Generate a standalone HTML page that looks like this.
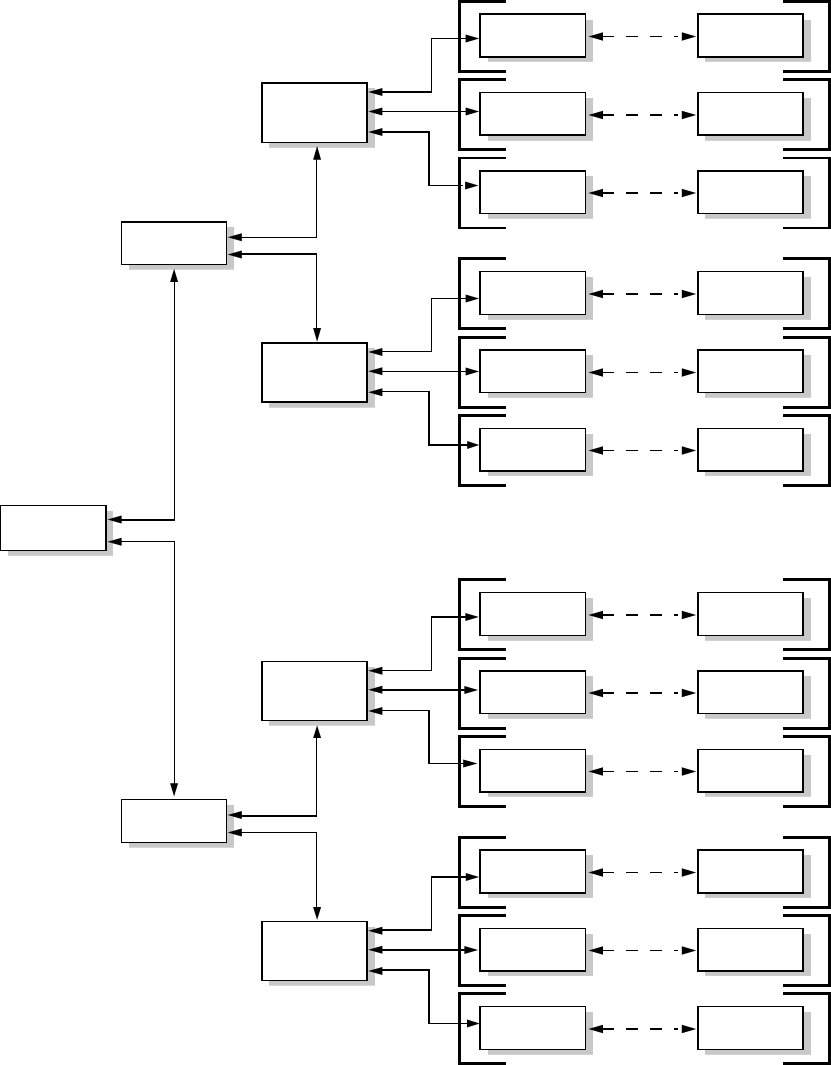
<!DOCTYPE html>
<html><head><meta charset="utf-8"><title>Diagram</title>
<style>html,body{margin:0;padding:0;background:#fff;}svg{display:block;}</style></head>
<body><svg width="831" height="1065" viewBox="0 0 831 1065">
<rect width="831" height="1065" fill="#fff"/>
<rect x="458" y="0" width="48" height="3" fill="#000"/>
<rect x="458" y="70" width="48" height="3" fill="#000"/>
<rect x="458" y="0" width="3" height="73" fill="#000"/>
<rect x="783" y="0" width="48" height="3" fill="#000"/>
<rect x="783" y="70" width="48" height="3" fill="#000"/>
<rect x="828" y="0" width="3" height="73" fill="#000"/>
<rect x="458" y="78" width="48" height="3" fill="#000"/>
<rect x="458" y="148" width="48" height="3" fill="#000"/>
<rect x="458" y="78" width="3" height="73" fill="#000"/>
<rect x="783" y="78" width="48" height="3" fill="#000"/>
<rect x="783" y="148" width="48" height="3" fill="#000"/>
<rect x="828" y="78" width="3" height="73" fill="#000"/>
<rect x="458" y="157" width="48" height="2" fill="#000"/>
<rect x="458" y="227" width="48" height="2" fill="#000"/>
<rect x="458" y="157" width="3" height="72" fill="#000"/>
<rect x="783" y="157" width="48" height="2" fill="#000"/>
<rect x="783" y="227" width="48" height="2" fill="#000"/>
<rect x="828" y="157" width="3" height="72" fill="#000"/>
<rect x="458" y="257" width="48" height="3" fill="#000"/>
<rect x="458" y="327" width="48" height="3" fill="#000"/>
<rect x="458" y="257" width="3" height="73" fill="#000"/>
<rect x="783" y="257" width="48" height="3" fill="#000"/>
<rect x="783" y="327" width="48" height="3" fill="#000"/>
<rect x="828" y="257" width="3" height="73" fill="#000"/>
<rect x="458" y="336" width="48" height="3" fill="#000"/>
<rect x="458" y="406" width="48" height="3" fill="#000"/>
<rect x="458" y="336" width="3" height="73" fill="#000"/>
<rect x="783" y="336" width="48" height="3" fill="#000"/>
<rect x="783" y="406" width="48" height="3" fill="#000"/>
<rect x="828" y="336" width="3" height="73" fill="#000"/>
<rect x="458" y="414" width="48" height="3" fill="#000"/>
<rect x="458" y="484" width="48" height="3" fill="#000"/>
<rect x="458" y="414" width="3" height="73" fill="#000"/>
<rect x="783" y="414" width="48" height="3" fill="#000"/>
<rect x="783" y="484" width="48" height="3" fill="#000"/>
<rect x="828" y="414" width="3" height="73" fill="#000"/>
<rect x="458" y="578" width="48" height="3" fill="#000"/>
<rect x="458" y="648" width="48" height="3" fill="#000"/>
<rect x="458" y="578" width="3" height="73" fill="#000"/>
<rect x="783" y="578" width="48" height="3" fill="#000"/>
<rect x="783" y="648" width="48" height="3" fill="#000"/>
<rect x="828" y="578" width="3" height="73" fill="#000"/>
<rect x="458" y="657" width="48" height="3" fill="#000"/>
<rect x="458" y="727" width="48" height="3" fill="#000"/>
<rect x="458" y="657" width="3" height="73" fill="#000"/>
<rect x="783" y="657" width="48" height="3" fill="#000"/>
<rect x="783" y="727" width="48" height="3" fill="#000"/>
<rect x="828" y="657" width="3" height="73" fill="#000"/>
<rect x="458" y="735" width="48" height="3" fill="#000"/>
<rect x="458" y="805" width="48" height="3" fill="#000"/>
<rect x="458" y="735" width="3" height="73" fill="#000"/>
<rect x="783" y="735" width="48" height="3" fill="#000"/>
<rect x="783" y="805" width="48" height="3" fill="#000"/>
<rect x="828" y="735" width="3" height="73" fill="#000"/>
<rect x="458" y="836" width="48" height="3" fill="#000"/>
<rect x="458" y="906" width="48" height="3" fill="#000"/>
<rect x="458" y="836" width="3" height="73" fill="#000"/>
<rect x="783" y="836" width="48" height="3" fill="#000"/>
<rect x="783" y="906" width="48" height="3" fill="#000"/>
<rect x="828" y="836" width="3" height="73" fill="#000"/>
<rect x="458" y="914" width="48" height="3" fill="#000"/>
<rect x="458" y="984" width="48" height="3" fill="#000"/>
<rect x="458" y="914" width="3" height="73" fill="#000"/>
<rect x="783" y="914" width="48" height="3" fill="#000"/>
<rect x="783" y="984" width="48" height="3" fill="#000"/>
<rect x="828" y="914" width="3" height="73" fill="#000"/>
<rect x="458" y="992" width="48" height="3" fill="#000"/>
<rect x="458" y="1062" width="48" height="3" fill="#000"/>
<rect x="458" y="992" width="3" height="73" fill="#000"/>
<rect x="783" y="992" width="48" height="3" fill="#000"/>
<rect x="783" y="1062" width="48" height="3" fill="#000"/>
<rect x="828" y="992" width="3" height="73" fill="#000"/>
<rect x="488" y="20" width="105" height="41.8" fill="#c8c8c8"/>
<rect x="479" y="13" width="107" height="45" fill="#fff"/>
<rect x="479" y="13" width="107" height="2" fill="#000"/>
<rect x="479" y="56" width="107" height="2" fill="#000"/>
<rect x="479" y="13" width="2" height="45" fill="#000"/>
<rect x="585" y="13" width="1" height="45" fill="#000"/>
<rect x="705" y="20" width="106" height="41.8" fill="#c8c8c8"/>
<rect x="697" y="13" width="107" height="45" fill="#fff"/>
<rect x="697" y="13" width="107" height="2" fill="#000"/>
<rect x="697" y="56" width="107" height="2" fill="#000"/>
<rect x="697" y="13" width="2" height="45" fill="#000"/>
<rect x="802" y="13" width="2" height="45" fill="#000"/>
<rect x="488" y="98" width="105" height="42.8" fill="#c8c8c8"/>
<rect x="479" y="92" width="107" height="44" fill="#fff"/>
<rect x="479" y="92" width="107" height="1" fill="#000"/>
<rect x="479" y="134" width="107" height="2" fill="#000"/>
<rect x="479" y="92" width="2" height="44" fill="#000"/>
<rect x="585" y="92" width="1" height="44" fill="#000"/>
<rect x="705" y="98" width="106" height="42.8" fill="#c8c8c8"/>
<rect x="697" y="92" width="107" height="44" fill="#fff"/>
<rect x="697" y="92" width="107" height="1" fill="#000"/>
<rect x="697" y="134" width="107" height="2" fill="#000"/>
<rect x="697" y="92" width="2" height="44" fill="#000"/>
<rect x="802" y="92" width="2" height="44" fill="#000"/>
<rect x="488" y="176" width="105" height="42.8" fill="#c8c8c8"/>
<rect x="479" y="170" width="107" height="44" fill="#fff"/>
<rect x="479" y="170" width="107" height="2" fill="#000"/>
<rect x="479" y="213" width="107" height="1" fill="#000"/>
<rect x="479" y="170" width="2" height="44" fill="#000"/>
<rect x="585" y="170" width="1" height="44" fill="#000"/>
<rect x="705" y="176" width="106" height="42.8" fill="#c8c8c8"/>
<rect x="697" y="170" width="107" height="44" fill="#fff"/>
<rect x="697" y="170" width="107" height="2" fill="#000"/>
<rect x="697" y="213" width="107" height="1" fill="#000"/>
<rect x="697" y="170" width="2" height="44" fill="#000"/>
<rect x="802" y="170" width="2" height="44" fill="#000"/>
<rect x="488" y="277" width="105" height="42.8" fill="#c8c8c8"/>
<rect x="479" y="271" width="107" height="44" fill="#fff"/>
<rect x="479" y="271" width="107" height="1" fill="#000"/>
<rect x="479" y="314" width="107" height="1" fill="#000"/>
<rect x="479" y="271" width="2" height="44" fill="#000"/>
<rect x="585" y="271" width="1" height="44" fill="#000"/>
<rect x="705" y="277" width="106" height="42.8" fill="#c8c8c8"/>
<rect x="697" y="271" width="107" height="44" fill="#fff"/>
<rect x="697" y="271" width="107" height="1" fill="#000"/>
<rect x="697" y="314" width="107" height="1" fill="#000"/>
<rect x="697" y="271" width="2" height="44" fill="#000"/>
<rect x="802" y="271" width="2" height="44" fill="#000"/>
<rect x="488" y="355" width="105" height="42.8" fill="#c8c8c8"/>
<rect x="479" y="349" width="107" height="44" fill="#fff"/>
<rect x="479" y="349" width="107" height="2" fill="#000"/>
<rect x="479" y="392" width="107" height="1" fill="#000"/>
<rect x="479" y="349" width="2" height="44" fill="#000"/>
<rect x="585" y="349" width="1" height="44" fill="#000"/>
<rect x="705" y="355" width="106" height="42.8" fill="#c8c8c8"/>
<rect x="697" y="349" width="107" height="44" fill="#fff"/>
<rect x="697" y="349" width="107" height="2" fill="#000"/>
<rect x="697" y="392" width="107" height="1" fill="#000"/>
<rect x="697" y="349" width="2" height="44" fill="#000"/>
<rect x="802" y="349" width="2" height="44" fill="#000"/>
<rect x="488" y="434" width="105" height="41.9" fill="#c8c8c8"/>
<rect x="479" y="428" width="107" height="44" fill="#fff"/>
<rect x="479" y="428" width="107" height="1" fill="#000"/>
<rect x="479" y="470" width="107" height="2" fill="#000"/>
<rect x="479" y="428" width="2" height="44" fill="#000"/>
<rect x="585" y="428" width="1" height="44" fill="#000"/>
<rect x="705" y="434" width="106" height="41.9" fill="#c8c8c8"/>
<rect x="697" y="428" width="107" height="44" fill="#fff"/>
<rect x="697" y="428" width="107" height="1" fill="#000"/>
<rect x="697" y="470" width="107" height="2" fill="#000"/>
<rect x="697" y="428" width="2" height="44" fill="#000"/>
<rect x="802" y="428" width="2" height="44" fill="#000"/>
<rect x="488" y="598" width="105" height="42.8" fill="#c8c8c8"/>
<rect x="479" y="592" width="107" height="44" fill="#fff"/>
<rect x="479" y="592" width="107" height="1" fill="#000"/>
<rect x="479" y="635" width="107" height="1" fill="#000"/>
<rect x="479" y="592" width="2" height="44" fill="#000"/>
<rect x="585" y="592" width="1" height="44" fill="#000"/>
<rect x="705" y="598" width="106" height="42.8" fill="#c8c8c8"/>
<rect x="697" y="592" width="107" height="44" fill="#fff"/>
<rect x="697" y="592" width="107" height="1" fill="#000"/>
<rect x="697" y="635" width="107" height="1" fill="#000"/>
<rect x="697" y="592" width="2" height="44" fill="#000"/>
<rect x="802" y="592" width="2" height="44" fill="#000"/>
<rect x="488" y="676" width="105" height="42.8" fill="#c8c8c8"/>
<rect x="479" y="670" width="107" height="44" fill="#fff"/>
<rect x="479" y="670" width="107" height="2" fill="#000"/>
<rect x="479" y="713" width="107" height="1" fill="#000"/>
<rect x="479" y="670" width="2" height="44" fill="#000"/>
<rect x="585" y="670" width="1" height="44" fill="#000"/>
<rect x="705" y="676" width="106" height="42.8" fill="#c8c8c8"/>
<rect x="697" y="670" width="107" height="44" fill="#fff"/>
<rect x="697" y="670" width="107" height="2" fill="#000"/>
<rect x="697" y="713" width="107" height="1" fill="#000"/>
<rect x="697" y="670" width="2" height="44" fill="#000"/>
<rect x="802" y="670" width="2" height="44" fill="#000"/>
<rect x="488" y="755" width="105" height="41.8" fill="#c8c8c8"/>
<rect x="479" y="749" width="107" height="44" fill="#fff"/>
<rect x="479" y="749" width="107" height="1" fill="#000"/>
<rect x="479" y="791" width="107" height="2" fill="#000"/>
<rect x="479" y="749" width="2" height="44" fill="#000"/>
<rect x="585" y="749" width="1" height="44" fill="#000"/>
<rect x="705" y="755" width="106" height="41.8" fill="#c8c8c8"/>
<rect x="697" y="749" width="107" height="44" fill="#fff"/>
<rect x="697" y="749" width="107" height="1" fill="#000"/>
<rect x="697" y="791" width="107" height="2" fill="#000"/>
<rect x="697" y="749" width="2" height="44" fill="#000"/>
<rect x="802" y="749" width="2" height="44" fill="#000"/>
<rect x="488" y="855" width="105" height="42.9" fill="#c8c8c8"/>
<rect x="479" y="849" width="107" height="45" fill="#fff"/>
<rect x="479" y="849" width="107" height="2" fill="#000"/>
<rect x="479" y="892" width="107" height="2" fill="#000"/>
<rect x="479" y="849" width="2" height="45" fill="#000"/>
<rect x="585" y="849" width="1" height="45" fill="#000"/>
<rect x="705" y="855" width="106" height="42.9" fill="#c8c8c8"/>
<rect x="697" y="849" width="107" height="45" fill="#fff"/>
<rect x="697" y="849" width="107" height="2" fill="#000"/>
<rect x="697" y="892" width="107" height="2" fill="#000"/>
<rect x="697" y="849" width="2" height="45" fill="#000"/>
<rect x="802" y="849" width="2" height="45" fill="#000"/>
<rect x="488" y="934" width="105" height="41.9" fill="#c8c8c8"/>
<rect x="479" y="928" width="107" height="44" fill="#fff"/>
<rect x="479" y="928" width="107" height="1" fill="#000"/>
<rect x="479" y="970" width="107" height="2" fill="#000"/>
<rect x="479" y="928" width="2" height="44" fill="#000"/>
<rect x="585" y="928" width="1" height="44" fill="#000"/>
<rect x="705" y="934" width="106" height="41.9" fill="#c8c8c8"/>
<rect x="697" y="928" width="107" height="44" fill="#fff"/>
<rect x="697" y="928" width="107" height="1" fill="#000"/>
<rect x="697" y="970" width="107" height="2" fill="#000"/>
<rect x="697" y="928" width="2" height="44" fill="#000"/>
<rect x="802" y="928" width="2" height="44" fill="#000"/>
<rect x="488" y="1012" width="105" height="42.8" fill="#c8c8c8"/>
<rect x="479" y="1006" width="107" height="44" fill="#fff"/>
<rect x="479" y="1006" width="107" height="1" fill="#000"/>
<rect x="479" y="1049" width="107" height="1" fill="#000"/>
<rect x="479" y="1006" width="2" height="44" fill="#000"/>
<rect x="585" y="1006" width="1" height="44" fill="#000"/>
<rect x="705" y="1012" width="106" height="42.8" fill="#c8c8c8"/>
<rect x="697" y="1006" width="107" height="44" fill="#fff"/>
<rect x="697" y="1006" width="107" height="1" fill="#000"/>
<rect x="697" y="1049" width="107" height="1" fill="#000"/>
<rect x="697" y="1006" width="2" height="44" fill="#000"/>
<rect x="802" y="1006" width="2" height="44" fill="#000"/>
<rect x="269" y="88" width="106" height="59.8" fill="#c8c8c8"/>
<rect x="261" y="82" width="107" height="61" fill="#fff"/>
<rect x="261" y="82" width="107" height="2" fill="#000"/>
<rect x="261" y="142" width="107" height="1" fill="#000"/>
<rect x="261" y="82" width="2" height="61" fill="#000"/>
<rect x="366" y="82" width="2" height="61" fill="#000"/>
<rect x="269" y="348" width="106" height="59.7" fill="#c8c8c8"/>
<rect x="261" y="342" width="107" height="61" fill="#fff"/>
<rect x="261" y="342" width="107" height="2" fill="#000"/>
<rect x="261" y="401" width="107" height="2" fill="#000"/>
<rect x="261" y="342" width="2" height="61" fill="#000"/>
<rect x="366" y="342" width="2" height="61" fill="#000"/>
<rect x="269" y="667" width="106" height="58.7" fill="#c8c8c8"/>
<rect x="261" y="661" width="107" height="60" fill="#fff"/>
<rect x="261" y="661" width="107" height="1" fill="#000"/>
<rect x="261" y="720" width="107" height="1" fill="#000"/>
<rect x="261" y="661" width="2" height="60" fill="#000"/>
<rect x="366" y="661" width="2" height="60" fill="#000"/>
<rect x="269" y="927" width="106" height="58.7" fill="#c8c8c8"/>
<rect x="261" y="921" width="107" height="60" fill="#fff"/>
<rect x="261" y="921" width="107" height="1" fill="#000"/>
<rect x="261" y="980" width="107" height="1" fill="#000"/>
<rect x="261" y="921" width="2" height="60" fill="#000"/>
<rect x="366" y="921" width="2" height="60" fill="#000"/>
<rect x="129" y="227" width="105" height="42.7" fill="#c8c8c8"/>
<rect x="121" y="221" width="106" height="44" fill="#fff"/>
<rect x="121" y="221" width="106" height="2" fill="#000"/>
<rect x="121" y="264" width="106" height="1" fill="#000"/>
<rect x="121" y="221" width="1" height="44" fill="#000"/>
<rect x="226" y="221" width="1" height="44" fill="#000"/>
<rect x="129" y="805" width="105" height="42.7" fill="#c8c8c8"/>
<rect x="121" y="799" width="106" height="44" fill="#fff"/>
<rect x="121" y="799" width="106" height="1" fill="#000"/>
<rect x="121" y="842" width="106" height="1" fill="#000"/>
<rect x="121" y="799" width="1" height="44" fill="#000"/>
<rect x="226" y="799" width="1" height="44" fill="#000"/>
<rect x="8" y="511" width="105" height="44.8" fill="#c8c8c8"/>
<rect x="0" y="505" width="107" height="46" fill="#fff"/>
<rect x="0" y="505" width="107" height="1" fill="#000"/>
<rect x="0" y="550" width="107" height="1" fill="#000"/>
<rect x="0" y="505" width="1" height="46" fill="#000"/>
<rect x="105" y="505" width="2" height="46" fill="#000"/>
<polygon points="107.4,519.5 121.6,515.5 121.6,523.5" fill="#000"/>
<rect x="120" y="519" width="55" height="2" fill="#000"/>
<rect x="174" y="281" width="1" height="239" fill="#000"/>
<polygon points="174.1,268.7 170.1,281.9 178.1,281.9" fill="#000"/>
<polygon points="107.4,541.7 121.6,537.7 121.6,545.7" fill="#000"/>
<rect x="120" y="541" width="55" height="1" fill="#000"/>
<rect x="174" y="541" width="1" height="243" fill="#000"/>
<polygon points="174.1,796.4 170.1,783.2 178.1,783.2" fill="#000"/>
<polygon points="227.6,237.2 241.8,233.2 241.8,241.2" fill="#000"/>
<rect x="241" y="237" width="76" height="1" fill="#000"/>
<rect x="316" y="159" width="1" height="78.5" fill="#000"/>
<polygon points="317.1,146 313.1,159.8 321.1,159.8" fill="#000"/>
<polygon points="227.6,254.5 241.8,250.5 241.8,258.5" fill="#000"/>
<rect x="241" y="253" width="76" height="2" fill="#000"/>
<rect x="316" y="254" width="1" height="74.5" fill="#000"/>
<polygon points="317.1,341.7 313.1,328.1 321.1,328.1" fill="#000"/>
<polygon points="227.6,815 241.8,811 241.8,819" fill="#000"/>
<rect x="241" y="815" width="76" height="2" fill="#000"/>
<rect x="316" y="737.5" width="1" height="78.5" fill="#000"/>
<polygon points="317.1,725.3 313.1,738.1 321.1,738.1" fill="#000"/>
<polygon points="227.6,832.5 241.8,828.5 241.8,836.5" fill="#000"/>
<rect x="241" y="832" width="76" height="1" fill="#000"/>
<rect x="316" y="832.5" width="1" height="75" fill="#000"/>
<polygon points="317.1,919.9 313.1,906.9 321.1,906.9" fill="#000"/>
<polygon points="368.2,92 382.4,88 382.4,96" fill="#000"/>
<rect x="382" y="91" width="50" height="2" fill="#000"/>
<rect x="431" y="38" width="1" height="55" fill="#000"/>
<rect x="431" y="38" width="35.1" height="1" fill="#000"/>
<polygon points="479.3,38.5 465.6,34.5 465.6,42.5" fill="#000"/>
<polygon points="368.2,111.5 382.4,107.5 382.4,115.5" fill="#000"/>
<rect x="382" y="111" width="84.1" height="1" fill="#000"/>
<polygon points="479.3,111.5 465.6,107.5 465.6,115.5" fill="#000"/>
<polygon points="368.2,132 382.4,128 382.4,136" fill="#000"/>
<rect x="382" y="131" width="48" height="2" fill="#000"/>
<rect x="428" y="131" width="2" height="55" fill="#000"/>
<rect x="428" y="185" width="35" height="1" fill="#000"/>
<polygon points="478.5,185.5 465.1,181.5 465.1,189.5" fill="#000"/>
<polygon points="368.2,352 382.4,348 382.4,356" fill="#000"/>
<rect x="382" y="351" width="50" height="1" fill="#000"/>
<rect x="431" y="298" width="1" height="54" fill="#000"/>
<rect x="431" y="298" width="35.1" height="1" fill="#000"/>
<polygon points="479.1,298.5 465.6,294.5 465.6,302.5" fill="#000"/>
<polygon points="368.2,371.3 382.4,367.3 382.4,375.3" fill="#000"/>
<rect x="382" y="371" width="84.1" height="1" fill="#000"/>
<polygon points="479.1,371.5 465.6,367.5 465.6,375.5" fill="#000"/>
<polygon points="368.2,392.3 382.4,388.3 382.4,396.3" fill="#000"/>
<rect x="382" y="391" width="48" height="1" fill="#000"/>
<rect x="428" y="391" width="2" height="55" fill="#000"/>
<rect x="428" y="444" width="40" height="2" fill="#000"/>
<polygon points="479.3,445 467.2,441 467.2,449" fill="#000"/>
<polygon points="368.2,670.7 382.4,666.7 382.4,674.7" fill="#000"/>
<rect x="382" y="670" width="50" height="1" fill="#000"/>
<rect x="431" y="616" width="1" height="55" fill="#000"/>
<rect x="431" y="616" width="34.9" height="2" fill="#000"/>
<polygon points="478.9,617 465.4,613 465.4,621" fill="#000"/>
<polygon points="368.2,689.8 382.4,685.8 382.4,693.8" fill="#000"/>
<rect x="382" y="689" width="82.9" height="2" fill="#000"/>
<polygon points="478.1,690 464.4,686 464.4,694" fill="#000"/>
<polygon points="368.2,710.9 382.4,706.9 382.4,714.9" fill="#000"/>
<rect x="382" y="710" width="48" height="1" fill="#000"/>
<rect x="428" y="710" width="2" height="54" fill="#000"/>
<rect x="428" y="763" width="36" height="1" fill="#000"/>
<polygon points="477.5,763.5 463.2,759.5 463.2,767.5" fill="#000"/>
<polygon points="368.2,930.7 382.4,926.7 382.4,934.7" fill="#000"/>
<rect x="382" y="929" width="50" height="2" fill="#000"/>
<rect x="431" y="876" width="1" height="55" fill="#000"/>
<rect x="431" y="876" width="35.3" height="2" fill="#000"/>
<polygon points="479.1,877 465.8,873 465.8,881" fill="#000"/>
<polygon points="368.2,949.8 382.4,945.8 382.4,953.8" fill="#000"/>
<rect x="382" y="949" width="82.9" height="2" fill="#000"/>
<polygon points="478.1,950 464.4,946 464.4,954" fill="#000"/>
<polygon points="368.2,970.9 382.4,966.9 382.4,974.9" fill="#000"/>
<rect x="382" y="969" width="48" height="2" fill="#000"/>
<rect x="428" y="969" width="2" height="55" fill="#000"/>
<rect x="428" y="1023" width="39.5" height="1" fill="#000"/>
<polygon points="479.9,1023.5 467,1019.5 467,1027.5" fill="#000"/>
<polygon points="588.4,36.5 603,32.2 603,40.8" fill="#000"/>
<polygon points="696.2,36.5 681.8,32.2 681.8,40.8" fill="#000"/>
<rect x="602" y="36" width="12" height="1" fill="#000"/>
<rect x="626" y="36" width="12" height="1" fill="#000"/>
<rect x="650" y="36" width="12" height="1" fill="#000"/>
<rect x="674" y="36" width="4" height="1" fill="#000"/>
<polygon points="588.4,115 603,110.7 603,119.3" fill="#000"/>
<polygon points="696.2,115 681.8,110.7 681.8,119.3" fill="#000"/>
<rect x="602" y="114" width="12" height="2" fill="#000"/>
<rect x="626" y="114" width="12" height="2" fill="#000"/>
<rect x="650" y="114" width="12" height="2" fill="#000"/>
<rect x="674" y="114" width="4" height="2" fill="#000"/>
<polygon points="588.4,193 603,188.7 603,197.3" fill="#000"/>
<polygon points="696.2,193 681.8,188.7 681.8,197.3" fill="#000"/>
<rect x="602" y="192" width="12" height="2" fill="#000"/>
<rect x="626" y="192" width="12" height="2" fill="#000"/>
<rect x="650" y="192" width="12" height="2" fill="#000"/>
<rect x="674" y="192" width="4" height="2" fill="#000"/>
<polygon points="588.4,294 603,289.7 603,298.3" fill="#000"/>
<polygon points="696.2,294 681.8,289.7 681.8,298.3" fill="#000"/>
<rect x="602" y="293" width="12" height="2" fill="#000"/>
<rect x="626" y="293" width="12" height="2" fill="#000"/>
<rect x="650" y="293" width="12" height="2" fill="#000"/>
<rect x="674" y="293" width="4" height="2" fill="#000"/>
<polygon points="588.4,372.5 603,368.2 603,376.8" fill="#000"/>
<polygon points="696.2,372.5 681.8,368.2 681.8,376.8" fill="#000"/>
<rect x="602" y="372" width="12" height="1" fill="#000"/>
<rect x="626" y="372" width="12" height="1" fill="#000"/>
<rect x="650" y="372" width="12" height="1" fill="#000"/>
<rect x="674" y="372" width="4" height="1" fill="#000"/>
<polygon points="588.4,450.5 603,446.2 603,454.8" fill="#000"/>
<polygon points="696.2,450.5 681.8,446.2 681.8,454.8" fill="#000"/>
<rect x="602" y="450" width="12" height="1" fill="#000"/>
<rect x="626" y="450" width="12" height="1" fill="#000"/>
<rect x="650" y="450" width="12" height="1" fill="#000"/>
<rect x="674" y="450" width="4" height="1" fill="#000"/>
<polygon points="588.4,615 603,610.7 603,619.3" fill="#000"/>
<polygon points="696.2,615 681.8,610.7 681.8,619.3" fill="#000"/>
<rect x="602" y="614" width="12" height="2" fill="#000"/>
<rect x="626" y="614" width="12" height="2" fill="#000"/>
<rect x="650" y="614" width="12" height="2" fill="#000"/>
<rect x="674" y="614" width="4" height="2" fill="#000"/>
<polygon points="588.4,693 603,688.7 603,697.3" fill="#000"/>
<polygon points="696.2,693 681.8,688.7 681.8,697.3" fill="#000"/>
<rect x="602" y="692" width="12" height="2" fill="#000"/>
<rect x="626" y="692" width="12" height="2" fill="#000"/>
<rect x="650" y="692" width="12" height="2" fill="#000"/>
<rect x="674" y="692" width="4" height="2" fill="#000"/>
<polygon points="588.4,771.5 603,767.2 603,775.8" fill="#000"/>
<polygon points="696.2,771.5 681.8,767.2 681.8,775.8" fill="#000"/>
<rect x="602" y="771" width="12" height="1" fill="#000"/>
<rect x="626" y="771" width="12" height="1" fill="#000"/>
<rect x="650" y="771" width="12" height="1" fill="#000"/>
<rect x="674" y="771" width="4" height="1" fill="#000"/>
<polygon points="588.4,872.5 603,868.2 603,876.8" fill="#000"/>
<polygon points="696.2,872.5 681.8,868.2 681.8,876.8" fill="#000"/>
<rect x="602" y="872" width="12" height="1" fill="#000"/>
<rect x="626" y="872" width="12" height="1" fill="#000"/>
<rect x="650" y="872" width="12" height="1" fill="#000"/>
<rect x="674" y="872" width="4" height="1" fill="#000"/>
<polygon points="588.4,950.5 603,946.2 603,954.8" fill="#000"/>
<polygon points="696.2,950.5 681.8,946.2 681.8,954.8" fill="#000"/>
<rect x="602" y="950" width="12" height="1" fill="#000"/>
<rect x="626" y="950" width="12" height="1" fill="#000"/>
<rect x="650" y="950" width="12" height="1" fill="#000"/>
<rect x="674" y="950" width="4" height="1" fill="#000"/>
<polygon points="588.4,1029 603,1024.7 603,1033.3" fill="#000"/>
<polygon points="696.2,1029 681.8,1024.7 681.8,1033.3" fill="#000"/>
<rect x="602" y="1028" width="12" height="2" fill="#000"/>
<rect x="626" y="1028" width="12" height="2" fill="#000"/>
<rect x="650" y="1028" width="12" height="2" fill="#000"/>
<rect x="674" y="1028" width="4" height="2" fill="#000"/>
</svg></body></html>
